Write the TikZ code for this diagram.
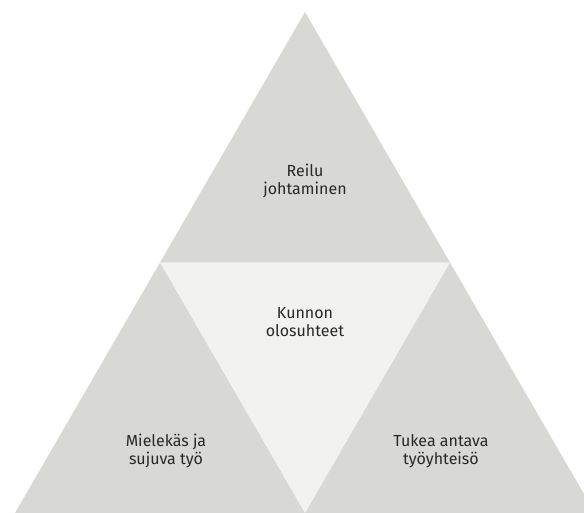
\documentclass[tikz,border=0pt]{standalone}
\usepackage{fontspec}
\setmainfont{Fira Sans}
\usepackage{tikz}
\usetikzlibrary{calc,positioning}

\definecolor{outergrey}{RGB}{216,216,213}
\definecolor{innergrey}{RGB}{242,242,240}
\definecolor{labeltext}{RGB}{40,40,40}

\begin{document}
\begin{tikzpicture}[x=1pt,y=-1pt,
  part/.style={fill=outergrey},
  middle/.style={fill=innergrey},
  lbl/.style={font=\fontsize{16}{18}\selectfont, align=center, text=labeltext, inner sep=0pt}]

  % page frame
  \useasboundingbox (0,0) rectangle (584,513);
  \clip (0,0) rectangle (584,513);

  % corners of the big triangle
  \coordinate (apex)  at (305,12);
  \coordinate (left)  at (15,513);
  \coordinate (right) at (595,513);

  % midpoints of the sides
  \coordinate (midl) at ($(apex)!0.5!(left)$);
  \coordinate (midr) at ($(apex)!0.5!(right)$);
  \coordinate (midb) at ($(left)!0.5!(right)$);

  % the four triangles
  \fill[part]   (apex) -- (left) -- (right) -- cycle;
  \fill[middle] (midl) -- (midr) -- (midb) -- cycle;

  % labels
  \node[lbl] (lead)   at (305,181) {Reilu\\johtaminen};
  \node[lbl] (cond)   at (305,322) {Kunnon\\olosuhteet};
  \node[lbl] (work)   at (166,451) {Mielekäs ja\\sujuva työ};
  \node[lbl] (comm)   at (441,451) {Tukea antava\\työyhteisö};

\end{tikzpicture}
\end{document}
